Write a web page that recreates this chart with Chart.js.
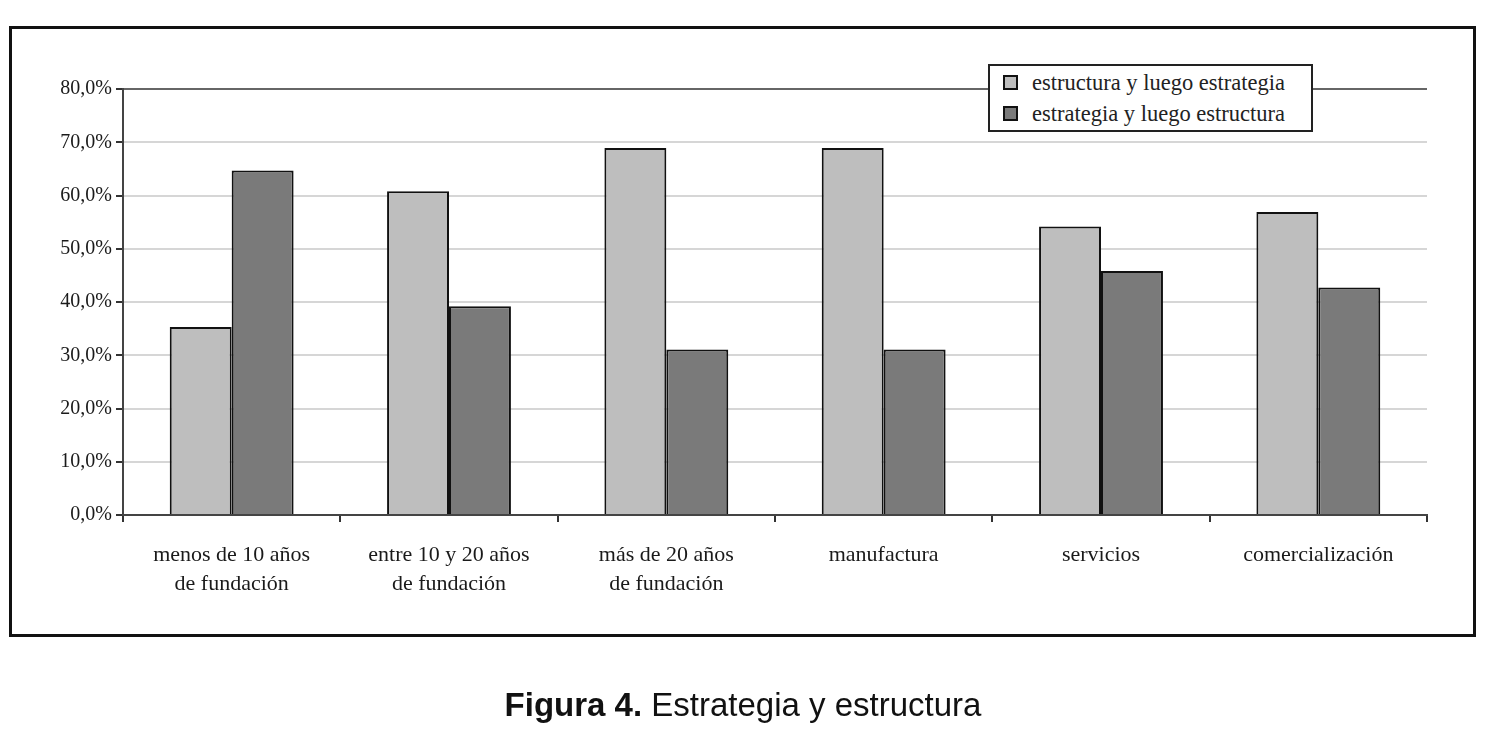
<!DOCTYPE html>
<html>
<head>
<meta charset="utf-8">
<script src="https://cdn.jsdelivr.net/npm/chart.js@4/dist/chart.umd.min.js"></script>
<style>
  body { margin: 0; background: #fff; width: 1500px; height: 739px; overflow: hidden; position: relative; }
  #frame { position: absolute; left: 9px; top: 26px; width: 1461px; height: 605px; border: 3px solid #111; }
  #wrap { position: absolute; left: 0; top: 0; width: 1500px; height: 739px; }
  #legend { position: absolute; left: 988px; top: 64px; width: 321px; height: 64px; border: 2px solid #222;
            background: #fff; font-family: "Liberation Serif", serif; font-size: 22.5px; color: #222; }
  .item { position: absolute; left: 13px; height: 22px; line-height: 22px; white-space: nowrap; }
  .sw { display: inline-block; width: 11px; height: 11px; border: 2px solid #111; vertical-align: 0px; margin-right: 14px; }
  #caption { position: absolute; left: 0; width: 1486px; top: 686px; text-align: center;
             font-family: "Liberation Sans", Arial, sans-serif; font-size: 33px; color: #111; }
</style>
</head>
<body>
<div id="frame"></div>
<div id="wrap"><canvas id="chart"></canvas></div>
<div id="legend"></div>
<div id="caption"><b>Figura 4.</b> Estrategia y estructura</div>
<script>
// datos
const categorias = [
  ['menos de 10 años', 'de fundación'],
  ['entre 10 y 20 años', 'de fundación'],
  ['más de 20 años', 'de fundación'],
  'manufactura',
  'servicios',
  'comercialización'
];
const estructuraLuegoEstrategia = [35.3, 60.8, 68.9, 68.9, 54.2, 56.9];
const estrategiaLuegoEstructura = [64.7, 39.2, 31.1, 31.1, 45.8, 42.7];
const nombresSeries = ['estructura y luego estrategia', 'estrategia y luego estructura'];
const coloresSeries = ['#bebebe', '#7a7a7a'];

// leyenda en HTML
const legend = document.getElementById('legend');
nombresSeries.forEach((n, i) => {
  const d = document.createElement('div');
  d.className = 'item';
  d.style.top = (6 + i * 31) + 'px';
  d.innerHTML = `<span class="sw" style="background:${coloresSeries[i]}"></span>${n}`;
  legend.appendChild(d);
});

const serifY = { family: '"Liberation Serif", serif', size: 20 };
const serifX = { family: '"Liberation Serif", serif', size: 22, lineHeight: 1.3 };

new Chart(document.getElementById('chart'), {
  type: 'bar',
  data: {
    labels: categorias,
    datasets: [
      { label: nombresSeries[0], data: estructuraLuegoEstrategia, backgroundColor: coloresSeries[0],
        borderColor: '#111', borderWidth: 2, borderSkipped: 'bottom' },
      { label: nombresSeries[1], data: estrategiaLuegoEstructura, backgroundColor: coloresSeries[1],
        borderColor: '#111', borderWidth: 2, borderSkipped: 'bottom' }
    ]
  },
  options: {
    responsive: true,
    maintainAspectRatio: false,
    animation: false,
    layout: { padding: { left: 0, top: 89, right: 73, bottom: 0 } },
    plugins: { legend: { display: false }, tooltip: { enabled: false } },
    datasets: { bar: { categoryPercentage: 0.57, barPercentage: 1.0 } },
    scales: {
      x: {
        afterFit: s => { s.height = 224; },
        grid: { drawOnChartArea: false, drawTicks: true, tickLength: 7, tickColor: '#333', lineWidth: 2 },
        border: { color: '#444', width: 2 },
        ticks: { font: serifX, color: '#1a1a1a', padding: 19, maxRotation: 0 }
      },
      y: {
        min: 0, max: 80,
        afterFit: s => { s.width = 123; },
        grid: {
          color: c => (c.tick && c.tick.value === 80) ? '#666' : '#d6d6d6',
          lineWidth: 2, tickLength: 7, tickColor: '#333'
        },
        border: { color: '#444', width: 2 },
        ticks: {
          stepSize: 10, font: serifY, color: '#1a1a1a', padding: 4,
          callback: v => v.toFixed(1).replace('.', ',') + '%'
        }
      }
    }
  }
});
</script>
</body>
</html>
